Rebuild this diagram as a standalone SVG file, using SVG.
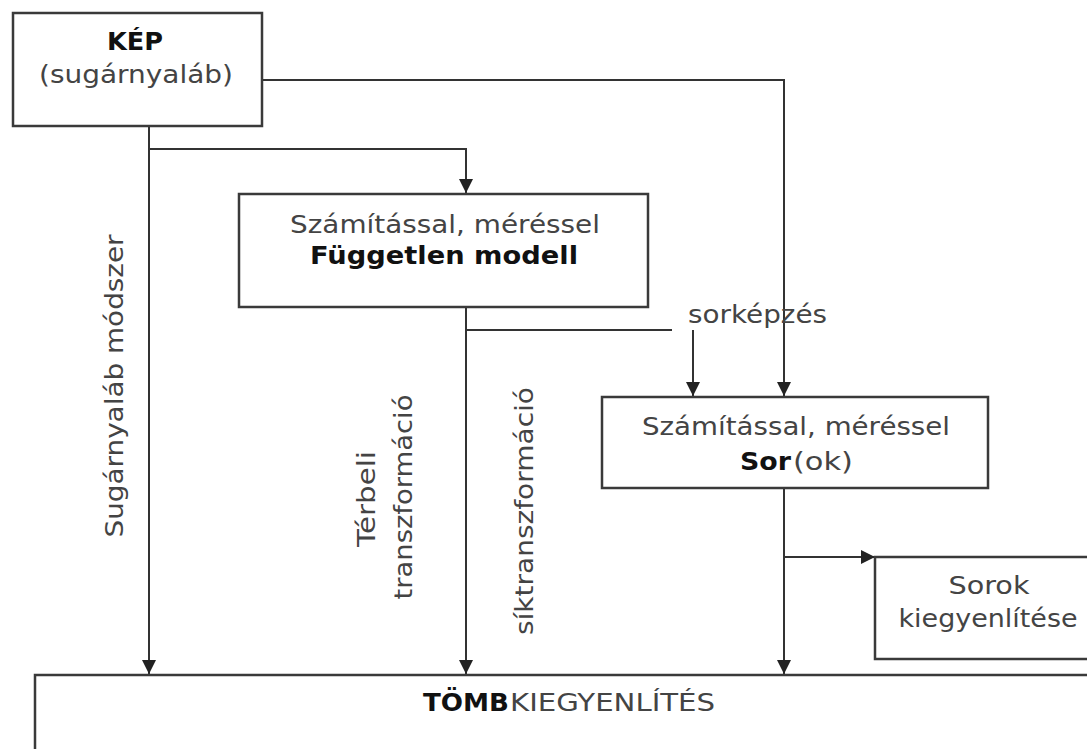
<svg xmlns="http://www.w3.org/2000/svg" width="1087" height="749" viewBox="0 0 1087 749">
<defs>
<marker id="arr" markerUnits="userSpaceOnUse" markerWidth="14" markerHeight="14" refX="14" refY="7" orient="auto">
<path d="M0,0 L14,7 L0,14 z" fill="#222"/>
</marker>
<style>
.box{fill:#fff;stroke:#3a3a3a;stroke-width:2.5}
.ln{fill:none;stroke:#333;stroke-width:2}
.t{font-family:"DejaVu Sans",Verdana,sans-serif;font-size:25px;fill:#444;text-anchor:middle}
.b{font-weight:bold;fill:#111}
.s{text-anchor:start}
</style>
</defs>
<rect width="1087" height="749" fill="#fff"/>
<g id="connectors">
<path class="ln" d="M262,80 H784 V396" marker-end="url(#arr)"/>
<path class="ln" d="M149,126 V674" marker-end="url(#arr)"/>
<path class="ln" d="M149,149 H466 V193" marker-end="url(#arr)"/>
<path class="ln" d="M466,307 V674" marker-end="url(#arr)"/>
<path class="ln" d="M466,330 H672"/>
<path class="ln" d="M693,330 V396" marker-end="url(#arr)"/>
<path class="ln" d="M784,488 V674" marker-end="url(#arr)"/>
<path class="ln" d="M784,557 H875" marker-end="url(#arr)"/>
</g>
<g id="kep">
<rect class="box" x="13" y="13" width="249" height="113"/>
<text class="t b" x="135" y="50" textLength="56" lengthAdjust="spacingAndGlyphs">KÉP</text>
<text class="t" x="136" y="83" textLength="194" lengthAdjust="spacingAndGlyphs">(sugárnyaláb)</text>
</g>
<g id="fuggetlen">
<rect class="box" x="239" y="194" width="409" height="113"/>
<text class="t" x="445" y="233" textLength="310" lengthAdjust="spacingAndGlyphs">Számítással, méréssel</text>
<text class="t b" x="444" y="264" textLength="268" lengthAdjust="spacingAndGlyphs">Független modell</text>
</g>
<g id="sor">
<rect class="box" x="602" y="397" width="386" height="91"/>
<text class="t" x="796" y="435" textLength="308" lengthAdjust="spacingAndGlyphs">Számítással, méréssel</text>
<text class="t b s" x="740" y="470" textLength="51" lengthAdjust="spacingAndGlyphs">Sor</text>
<text class="t s" x="793" y="470" textLength="60" lengthAdjust="spacingAndGlyphs">(ok)</text>
</g>
<g id="sorok">
<rect class="box" x="875" y="557" width="230" height="102"/>
<text class="t" x="989" y="594" textLength="81" lengthAdjust="spacingAndGlyphs">Sorok</text>
<text class="t" x="988" y="627" textLength="179" lengthAdjust="spacingAndGlyphs">kiegyenlítése</text>
</g>
<g id="tomb">
<rect class="box" x="35" y="675" width="1080" height="100"/>
<text class="t b s" x="423" y="711" textLength="86" lengthAdjust="spacingAndGlyphs">TÖMB</text>
<text class="t s" x="510" y="711" textLength="205" lengthAdjust="spacingAndGlyphs">KIEGYENLÍTÉS</text>
</g>
<g id="labels">
<text class="t s" x="688" y="323" textLength="139" lengthAdjust="spacingAndGlyphs">sorképzés</text>
<text class="t" x="123" y="386" transform="rotate(-90 123 386)" textLength="303" lengthAdjust="spacingAndGlyphs">Sugárnyaláb módszer</text>
<text class="t" x="375" y="499" transform="rotate(-90 375 499)" textLength="96" lengthAdjust="spacingAndGlyphs">Térbeli</text>
<text class="t" x="412" y="497" transform="rotate(-90 412 497)" textLength="205" lengthAdjust="spacingAndGlyphs">transzformáció</text>
<text class="t" x="533" y="511" transform="rotate(-90 533 511)" textLength="248" lengthAdjust="spacingAndGlyphs">síktranszformáció</text>
</g>
</svg>
